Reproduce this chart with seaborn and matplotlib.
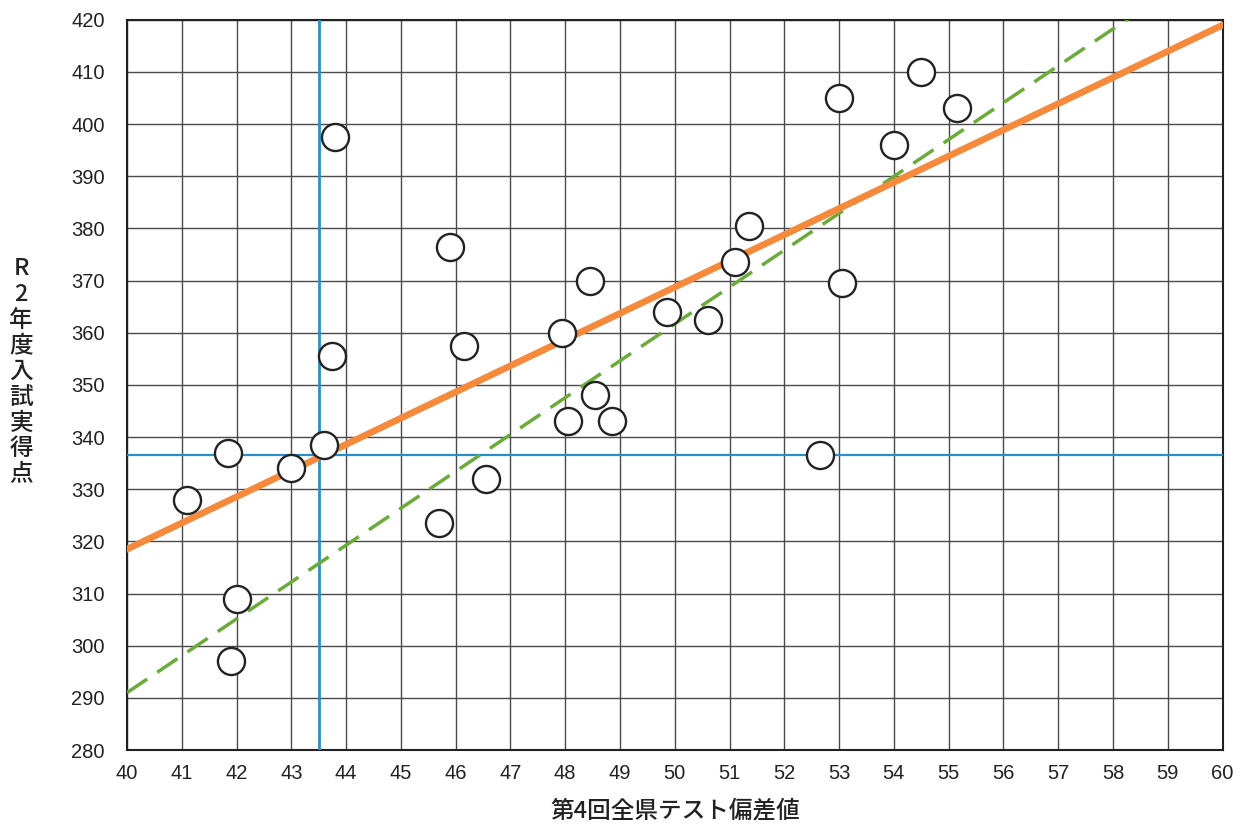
import numpy as np
import pandas as pd
import matplotlib
matplotlib.use("Agg")
import matplotlib.pyplot as plt
import seaborn as sns

# 第4回全県テスト偏差値 と R2年度入試実得点
hensachi = [41.1, 41.85, 42.0, 41.9, 43.0, 43.6, 43.75, 43.8, 45.9, 46.15, 45.7, 46.55,
            47.95, 48.05, 48.45, 48.55, 48.85, 49.85, 50.6, 51.1, 51.35, 52.65, 53.0, 53.05,
            54.0, 54.5, 55.15]
tokuten = [328, 337, 309, 297, 334, 338.5, 355.5, 397.5, 376.5, 357.5, 323.5, 332,
           360, 343, 370, 348, 343, 364, 362.5, 373.5, 380.5, 336.5, 405, 369.5,
           396, 410, 403]

# 回帰直線（オレンジ）と 破線（緑）の両端
orange_x = [40, 60]
orange_y = [318.5, 419]
green_x = [40, 58.6]
green_y = [291, 422.5]

# 平均線（青）
mean_x = 43.5
mean_y = 336.5

xticks = list(range(40, 61))
yticks = list(range(280, 421, 10))

sns.set_theme(style="white")
plt.rcParams['font.family'] = ['Liberation Sans', 'Noto Sans CJK JP', 'DejaVu Sans']

fig = plt.figure(figsize=(12.45, 8.26), dpi=100)
ax = fig.add_axes([0.102, 0.092, 0.880, 0.884])

df = pd.DataFrame({"x": hensachi, "y": tokuten})

ax.axvline(mean_x, color="#2a8fc8", lw=2, zorder=3)
ax.axhline(mean_y, color="#2a8fc8", lw=1.6, zorder=3)

sns.lineplot(x=green_x, y=green_y, ax=ax, color="#6aab3a", lw=2.5, zorder=4)
ax.lines[-1].set_dashes((7, 3.5))
sns.lineplot(x=orange_x, y=orange_y, ax=ax, color="#f58a3c", lw=4.8, zorder=5)

sns.scatterplot(data=df, x="x", y="y", ax=ax, s=380, facecolor="white",
                edgecolor="#222222", linewidth=1.7, zorder=6, legend=False)

ax.set_xlim(40, 60)
ax.set_ylim(280, 420)
ax.set_xticks(xticks)
ax.set_yticks(yticks)
ax.grid(True, color="#4a4a4a", lw=1.0)
for s in ax.spines.values():
    s.set_color("#222222")
    s.set_linewidth(1.5)
ax.tick_params(length=0, labelsize=14.5, colors="#222222")
ax.tick_params(axis="y", pad=16)
ax.tick_params(axis="x", pad=10)

ax.set_xlabel("第4回全県テスト偏差値", fontsize=17, color="#222222", labelpad=12,
              family=['Noto Sans CJK JP', 'DejaVu Sans'], fontweight="medium")
ax.set_ylabel("")
fig.text(0.017, 0.55, "R\n2\n年\n度\n入\n試\n実\n得\n点", fontsize=17,
         color="#222222", ha="center", va="center", linespacing=1.15,
         family=['Noto Sans CJK JP', 'DejaVu Sans'], fontweight="medium")

fig.savefig("out.png", dpi=100)
